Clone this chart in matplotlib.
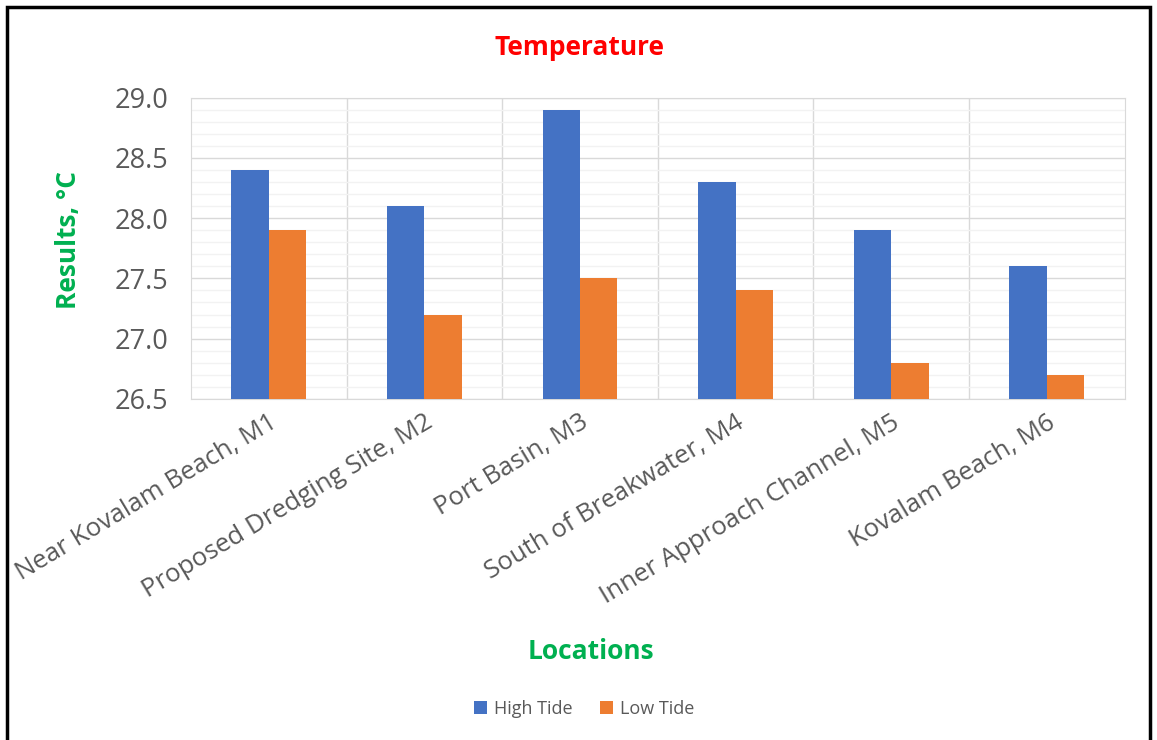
import matplotlib.pyplot as plt
import numpy as np
from matplotlib.patches import Rectangle

locations = ['Near Kovalam Beach, M1', 'Proposed Dredging Site, M2', 'Port Basin, M3',
             'South of Breakwater, M4', 'Inner Approach Channel, M5', 'Kovalam Beach, M6']
high_tide = [28.4, 28.1, 28.9, 28.3, 27.9, 27.6]
low_tide = [27.9, 27.2, 27.5, 27.4, 26.8, 26.7]
y_ticks = [26.5, 27.0, 27.5, 28.0, 28.5, 29.0]

plt.rcParams['font.family'] = ['Open Sans', 'DejaVu Sans']

fig = plt.figure(figsize=(11.57, 7.40), dpi=100)
ax = fig.add_axes([0.165, 0.461, 0.807, 0.407])

x = np.arange(len(locations))
w = 0.24
ax.bar(x - w/2, high_tide, w, color='#4472C4', label='High Tide', zorder=3)
ax.bar(x + w/2, low_tide, w, color='#ED7D31', label='Low Tide', zorder=3)

ax.set_xlim(-0.5, len(locations) - 0.5)
ax.set_ylim(26.5, 29.0)
ax.set_yticks(y_ticks)
ax.set_yticklabels(['%.1f' % v for v in y_ticks])
ax.set_yticks(np.arange(26.5, 29.0, 0.1), minor=True)
ax.grid(True, which='major', axis='y', color='#D9D9D9', lw=1.0, zorder=0)
ax.grid(True, which='minor', axis='y', color='#F2F2F2', lw=1.0, zorder=0)
for xv in np.arange(0.5, len(locations) - 0.5, 1):
    ax.axvline(xv, color='#D9D9D9', lw=1.0, zorder=0)

ax.set_xticks(x)
ax.set_xticklabels(locations, rotation=31, ha='right', rotation_mode='anchor', fontsize=18.5, color='#595959')
ax.tick_params(axis='y', labelsize=19.5, labelcolor='#595959', length=0, pad=16)
ax.tick_params(axis='x', which='both', length=0, pad=8)
ax.tick_params(axis='y', which='minor', length=0)
for s in ax.spines.values():
    s.set_color('#D9D9D9')

fig.text(0.501, 0.936, 'Temperature', color='red', fontsize=19, fontweight='bold', ha='center', va='center')
fig.text(0.059, 0.675, 'Results, °C', color='#00B050', fontsize=19, fontweight='bold',
         rotation=90, ha='center', va='center')
fig.text(0.511, 0.12, 'Locations', color='#00B050', fontsize=19, fontweight='bold', ha='center', va='center')

fig.legend(loc='center', bbox_to_anchor=(0.505, 0.042), ncol=2, frameon=False, fontsize=13,
           handlelength=0.7, handleheight=0.7, handletextpad=0.4, columnspacing=1.5,
           labelcolor='#595959')

fig.patches.append(Rectangle((7/1157, -0.01), 1143/1157, 1 - 7/740 + 0.01, transform=fig.transFigure,
                             fill=False, edgecolor='black', lw=2.5))

plt.savefig('out.png', dpi=100)
